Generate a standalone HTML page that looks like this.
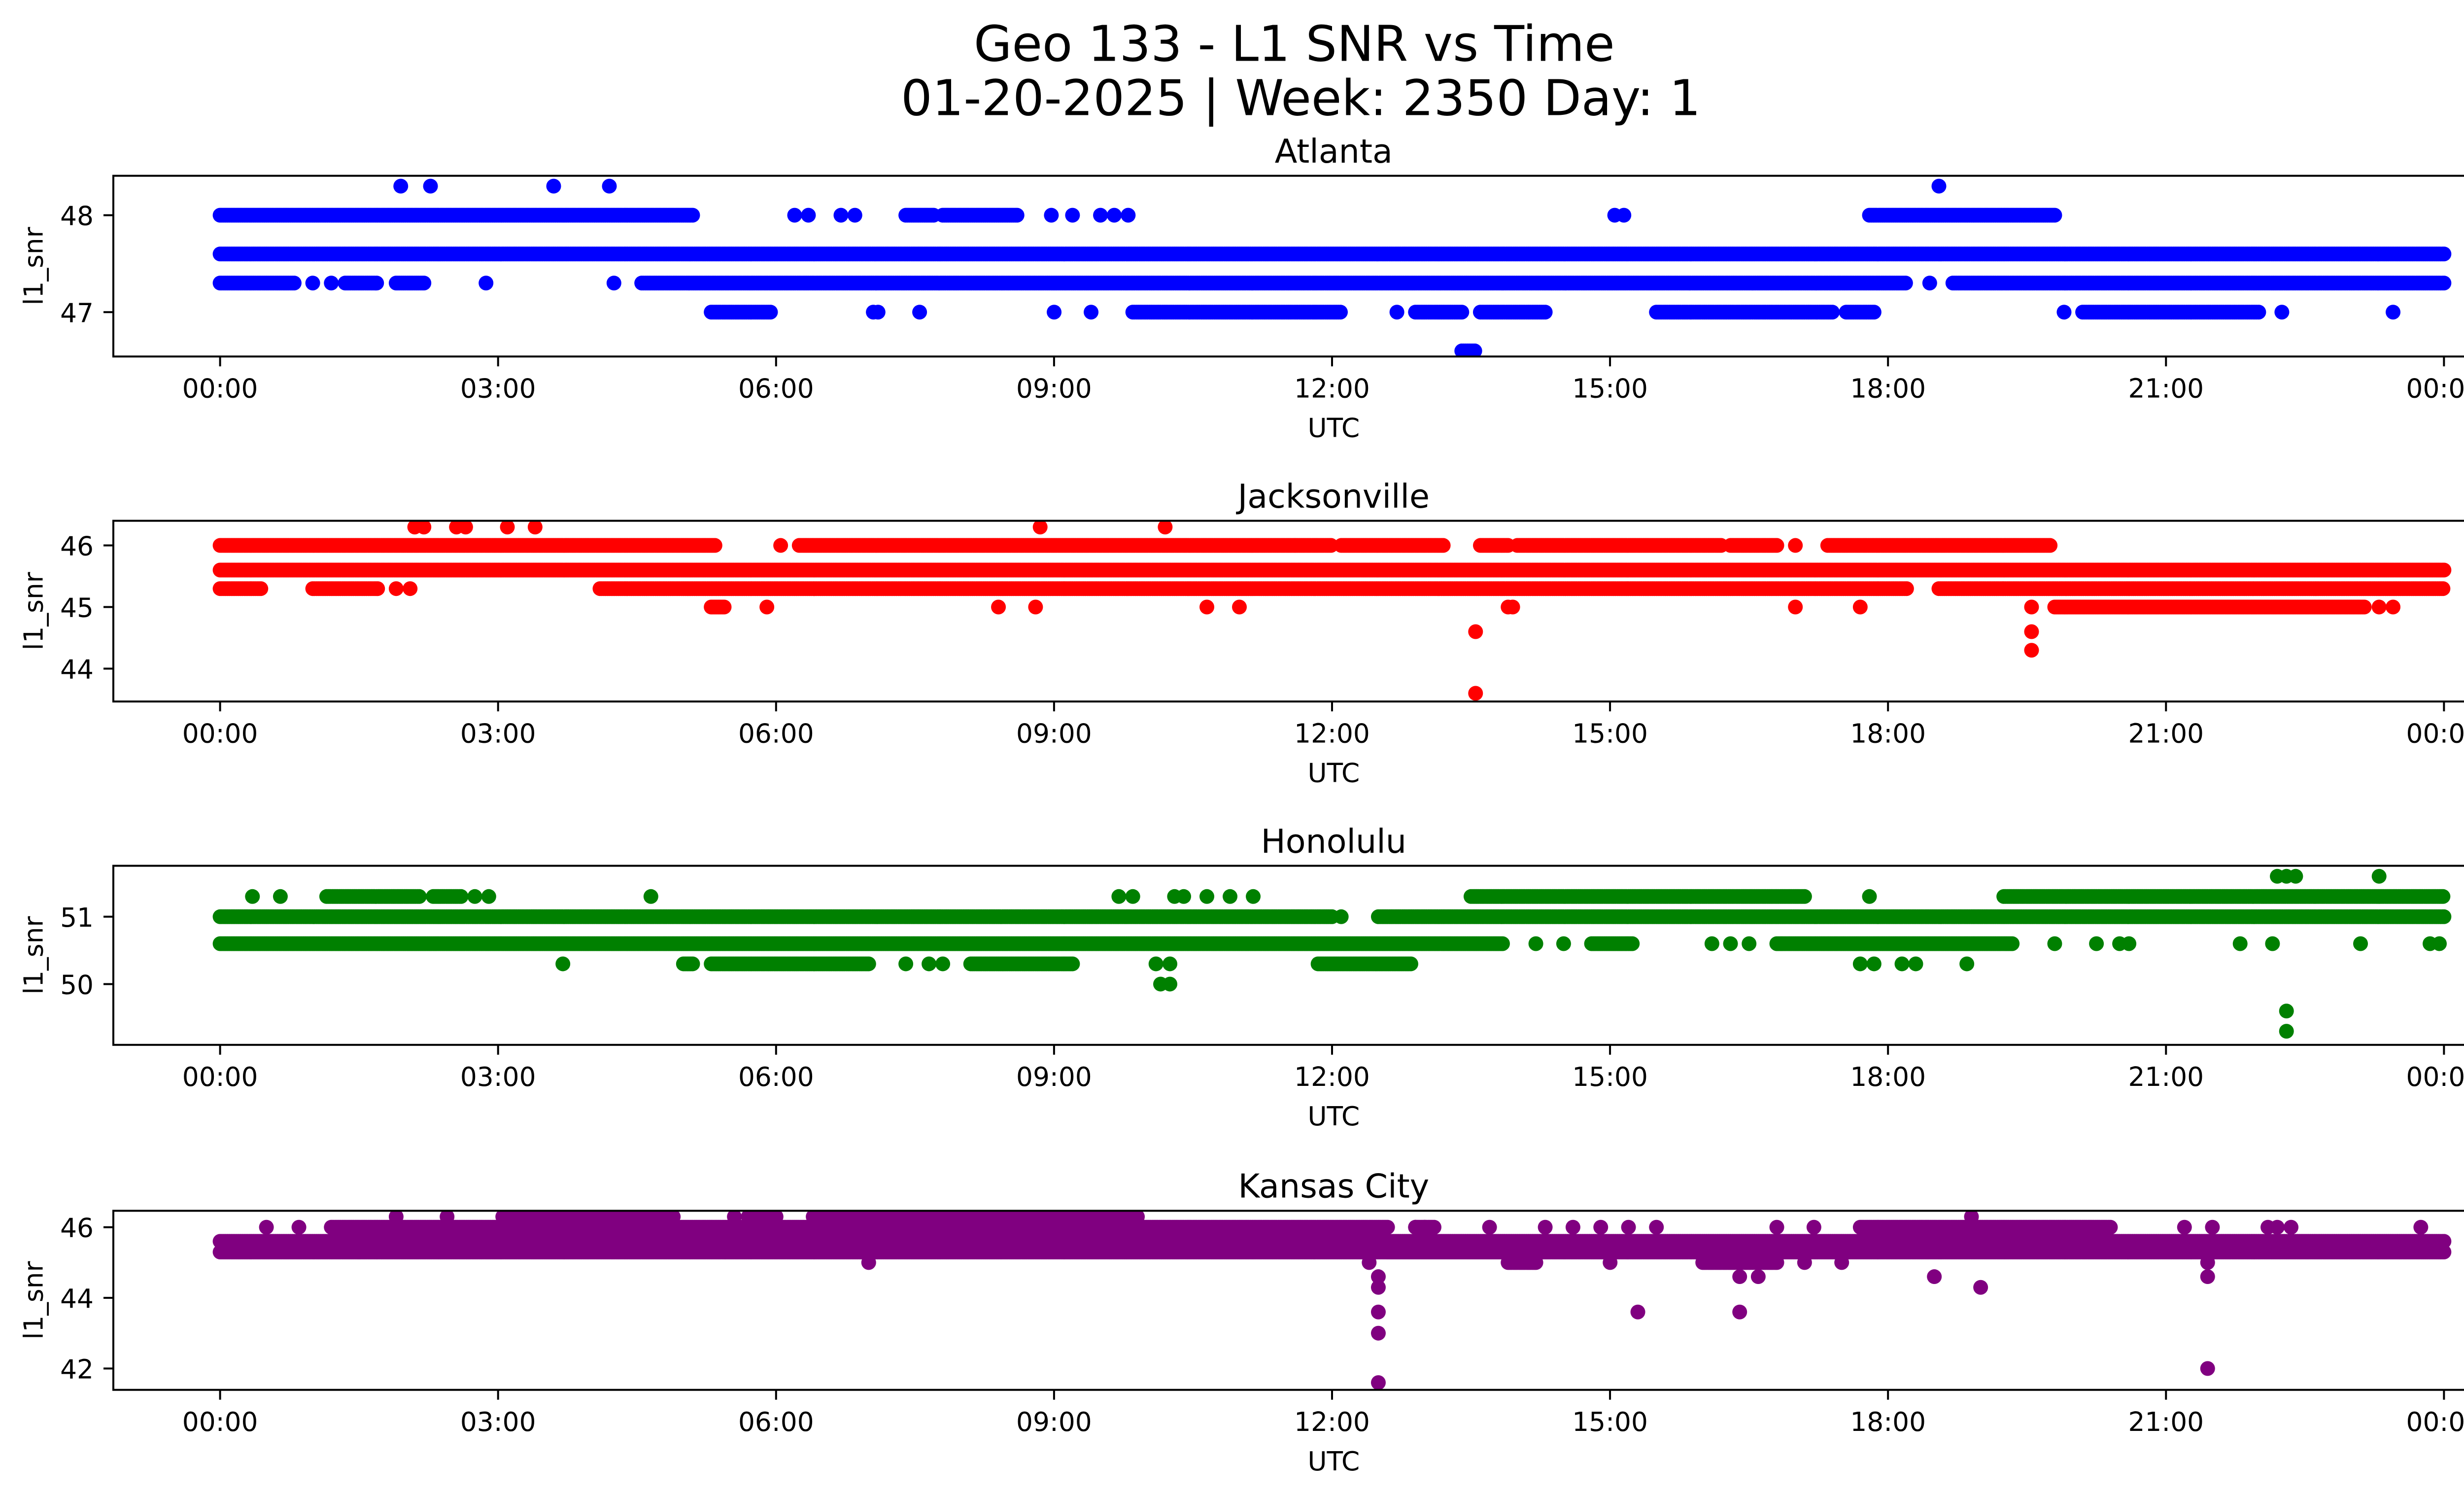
<!DOCTYPE html>
<html><head><meta charset="utf-8"><style>
html,body{margin:0;padding:0;background:#fff;overflow:hidden;}
svg{display:block;}
text{font-family:"DejaVu Sans","Liberation Sans",sans-serif;fill:#000;}
</style></head><body>
<svg id="fig" width="5226" height="3033" viewBox="0 0 1568 910" preserveAspectRatio="none" xmlns="http://www.w3.org/2000/svg">
<rect width="1568" height="910" fill="#fff"/>
<text x="788" y="37" font-size="30" text-anchor="middle">Geo 133 - L1 SNR vs Time</text>
<text x="792" y="70" font-size="30" text-anchor="middle">01-20-2025 | Week: 2350 Day: 1</text>
<g id="plots"></g>
</svg>
<script>
// x tick labels (hours)
const xTickHours = [0,3,6,9,12,15,18,21,24];
const xTickLabels = ["00:00","03:00","06:00","09:00","12:00","15:00","18:00","21:00","00:00"];
const panelTitles = ["Atlanta","Jacksonville","Honolulu","Kansas City"];
const panelColors = ["#0000ff","#ff0000","#008000","#800080"];
const yTicks1 = [47,48], yTicks2 = [44,45,46], yTicks3 = [50,51], yTicks4 = [42,44,46];

// runs: [startHour, endHour, value]; points: [hour, value]
const atlRuns = [[0,24,47.6],[0,5.1,48.0],[7.4,7.7,48.0],[7.8,8.6,48.0],[17.8,19.8,48.0],
 [0,0.8,47.3],[1.35,1.7,47.3],[1.9,2.2,47.3],[4.55,18.2,47.3],[18.7,24,47.3],
 [5.3,5.95,47.0],[9.85,12.1,47.0],[12.9,13.4,47.0],[13.6,14.3,47.0],[15.5,17.4,47.0],[17.55,17.85,47.0],[20.1,22.0,47.0],[13.4,13.55,46.6]];
const atlPoints = [[6.2,48],[6.35,48],[6.7,48],[6.85,48],[8.97,48],[9.2,48],[9.5,48],[9.65,48],[9.8,48],[15.05,48],[15.15,48],
 [1.95,48.3],[2.27,48.3],[3.6,48.3],[4.2,48.3],[18.55,48.3],[1.0,47.3],[1.2,47.3],[2.87,47.3],[4.25,47.3],[18.45,47.3],
 [7.05,47],[7.1,47],[7.55,47],[9.0,47],[9.4,47],[12.7,47],[19.9,47],[22.25,47],[23.45,47]];

const jaxRuns = [[0,24,45.6],[0,5.35,46.0],[6.25,12.0,46.0],[12.1,13.2,46.0],[13.6,13.9,46.0],[14.0,16.2,46.0],[16.3,16.8,46.0],[17.35,19.75,46.0],
 [0,0.45,45.3],[1.0,1.7,45.3],[4.1,18.2,45.3],[18.55,24,45.3],[5.3,5.45,45.0],[19.8,23.15,45.0]];
const jaxPoints = [[6.05,46],[17.0,46],[11.6,46],[2.1,46.3],[2.2,46.3],[2.55,46.3],[2.65,46.3],[3.1,46.3],[3.4,46.3],[8.85,46.3],[10.2,46.3],
 [1.9,45.3],[2.05,45.3],[5.9,45],[8.4,45],[8.8,45],[10.65,45],[11.0,45],[13.9,45],[13.95,45],[17.0,45],[17.7,45],[19.55,45],[23.3,45],[23.45,45],
 [13.55,44.6],[19.55,44.6],[19.55,44.3],[13.55,43.6]];

const honRuns = [[0,12.0,51.0],[12.5,24,51.0],[0,13.85,50.6],[14.8,15.25,50.6],[16.8,19.35,50.6],
 [1.15,2.15,51.3],[2.3,2.6,51.3],[13.5,17.1,51.3],[19.25,24,51.3],[5.0,5.1,50.3],[5.3,7.0,50.3],[8.1,9.2,50.3],[11.85,12.85,50.3]];
const honPoints = [[0.35,51.3],[0.65,51.3],[2.75,51.3],[2.9,51.3],[4.65,51.3],[9.7,51.3],[9.85,51.3],[10.3,51.3],[10.4,51.3],[10.65,51.3],[10.9,51.3],[11.15,51.3],[17.8,51.3],
 [12.1,51],[14.2,50.6],[14.5,50.6],[16.1,50.6],[16.3,50.6],[16.5,50.6],[16.85,50.6],[19.8,50.6],[20.25,50.6],[20.5,50.6],[20.6,50.6],[21.8,50.6],[22.15,50.6],[23.1,50.6],[23.85,50.6],[23.95,50.6],
 [3.7,50.3],[7.4,50.3],[7.65,50.3],[7.8,50.3],[10.1,50.3],[10.25,50.3],[17.7,50.3],[17.85,50.3],[18.15,50.3],[18.3,50.3],[18.85,50.3],
 [10.15,50.0],[10.25,50.0],[22.2,51.6],[22.3,51.6],[22.4,51.6],[23.3,51.6],[22.3,49.6],[22.3,49.3]];

const kcRuns = [[0,24,45.3],[0,24,45.6],[1.2,12.6,46.0],[12.9,13.1,46.0],[17.7,20.4,46.0],
 [3.05,4.9,46.3],[5.7,6.0,46.3],[6.4,7.0,46.3],[7.1,8.9,46.3],[9.0,9.9,46.3],[12.6,14.0,45.3],[13.9,14.2,45.0],[16.0,16.8,45.0]];
const kcPoints = [[0.5,46],[0.85,46],[12.9,46],[13.0,46],[13.7,46],[14.3,46],[14.6,46],[14.9,46],[15.2,46],[15.5,46],[16.8,46],[17.2,46],[21.2,46],[21.5,46],[22.1,46],[22.2,46],[22.35,46],[23.75,46],
 [1.9,46.3],[2.45,46.3],[5.55,46.3],[18.9,46.3],[1.5,45.3],[5.45,45.3],[12.4,45.0],[15.0,45.0],[17.1,45.0],[17.5,45.0],[21.45,45.0],[7.0,45.0],
 [12.5,44.6],[12.5,44.3],[12.5,43.6],[12.5,43.0],[12.5,41.6],[15.3,43.6],[16.4,44.6],[16.4,43.6],[16.6,44.6],[18.5,44.6],[19.0,44.3],[21.45,44.6],[21.45,42.0]];

const allRuns = [atlRuns,jaxRuns,honRuns,kcRuns];
const allPoints = [atlPoints,jaxPoints,honPoints,kcPoints];
const allYTicks = [yTicks1,yTicks2,yTicks3,yTicks4];

// layout
const X0 = 69, X1 = 1555;
const xh = h => 134 + h*(1488-134)/24;
const panels = [
 {top:107,bot:217,v0:48,y0:131,k:59},
 {top:317,bot:427,v0:46,y0:332,k:37.5},
 {top:527,bot:636,v0:51,y0:558,k:41},
 {top:737,bot:846,v0:46,y0:747,k:21.5}
];
const NS="http://www.w3.org/2000/svg";
const root=document.getElementById('plots');
function mk(tag,attrs,parent){const e=document.createElementNS(NS,tag);for(const k in attrs)e.setAttribute(k,attrs[k]);(parent||root).appendChild(e);return e;}

panels.forEach((p,i)=>{
  const yv = v => p.y0-(v-p.v0)*p.k;
  const g=mk('g',{});
  
  
  const t=mk('text',{x:(X0+X1)/2,y:p.top-8,'font-size':'20','text-anchor':'middle'},g);
  t.textContent=panelTitles[i];
  
  
  const clip=mk('clipPath',{id:'c'+i},g);
  mk('rect',{x:X0,y:p.top,width:X1-X0,height:p.bot-p.top},clip);
  const pts=mk('g',{'clip-path':'url(#c'+i+')',fill:panelColors[i]},g);
  
  
  allRuns[i].forEach(r=>{
    for(let h=r[0];h<=r[1]+1e-9;h+=0.02){
      const c=mk('circle',{cx:xh(h).toFixed(1),cy:yv(r[2]).toFixed(1),r:4.5},pts);
      
      
    }
  });
  allPoints[i].forEach(q=>{
    const c=mk('circle',{cx:xh(q[0]).toFixed(1),cy:yv(q[1]).toFixed(1),r:4.5},pts);
    
    
  });
  const fr=mk('rect',{x:X0,y:p.top,width:X1-X0,height:p.bot-p.top,fill:'none',stroke:'#000','stroke-width':1.2},g);
  
  
  xTickHours.forEach((h,j)=>{
    const x=xh(h);
    mk('line',{x1:x,x2:x,y1:p.bot,y2:p.bot+6,stroke:'#000','stroke-width':1.2},g);
    const tl=mk('text',{x:x,y:p.bot+25,'font-size':'16','text-anchor':'middle'},g);
    tl.textContent=xTickLabels[j];
    
    
  });
  allYTicks[i].forEach(v=>{
    const y=yv(v);
    mk('line',{x1:X0-6,x2:X0,y1:y,y2:y,stroke:'#000','stroke-width':1.2},g);
    const tl=mk('text',{x:X0-12,y:y+6,'font-size':'16','text-anchor':'end'},g);
    tl.textContent=v;
    
    
  });
  const xl=mk('text',{x:(X0+X1)/2,y:p.bot+49,'font-size':'16','text-anchor':'middle'},g);
  xl.textContent='UTC';
  
  
  const cy=(p.top+p.bot)/2;
  const yl=mk('text',{x:26,y:cy,'font-size':'16','text-anchor':'middle',transform:'rotate(-90 26 '+cy+')'},g);
  yl.textContent='l1_snr';
  
  
});
</script>
</body></html>
